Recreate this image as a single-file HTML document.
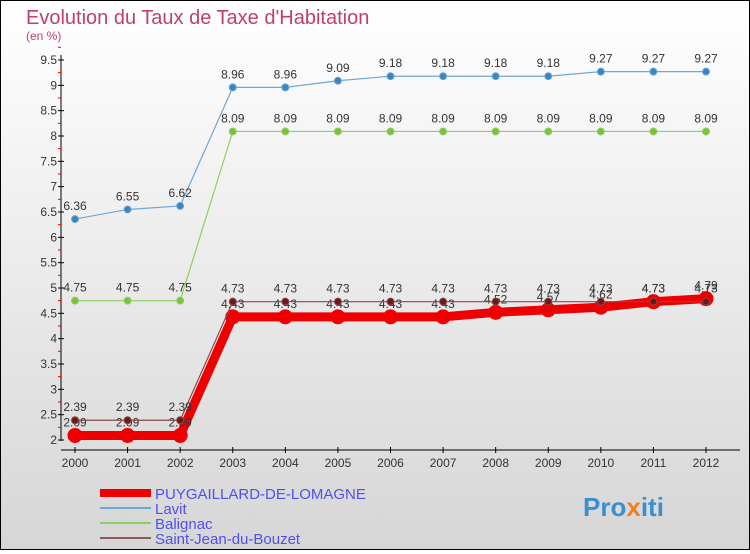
<!DOCTYPE html>
<html><head><meta charset="utf-8"><style>
body{margin:0;width:750px;height:550px;overflow:hidden;font-family:"Liberation Sans",sans-serif}
#wrap{position:relative;width:748px;height:548px;border:1px solid #000;background:linear-gradient(#ffffff,#d6d6d6)}
</style></head><body>
<div id="wrap">
<svg id="chart" width="748" height="548" viewBox="1 1 748 548">
<text x="26" y="24" font-size="20" fill="#c0406a">Evolution du Taux de Taxe d'Habitation</text>
<text x="26" y="40" font-size="12" fill="#c0406a">(en %)</text>
<g id="axes"></g><g id="series"></g><g id="legend"></g>
<text x="583" y="516" font-size="26" font-weight="bold" fill="#3a8fd0">Pro<tspan fill="#f08020">x</tspan>iti</text>
</svg></div>
<script>
const years=[2000,2001,2002,2003,2004,2005,2006,2007,2008,2009,2010,2011,2012];
const yTicks=[2,2.5,3,3.5,4,4.5,5,5.5,6,6.5,7,7.5,8,8.5,9,9.5];
const puyg=[2.09,2.09,2.09,4.43,4.43,4.43,4.43,4.43,4.52,4.57,4.62,4.73,4.79];
const lavit=[6.36,6.55,6.62,8.96,8.96,9.09,9.18,9.18,9.18,9.18,9.27,9.27,9.27];
const balignac=[4.75,4.75,4.75,8.09,8.09,8.09,8.09,8.09,8.09,8.09,8.09,8.09,8.09];
const sjdb=[2.39,2.39,2.39,4.73,4.73,4.73,4.73,4.73,4.73,4.73,4.73,4.73,4.73];
const names=["PUYGAILLARD-DE-LOMAGNE","Lavit","Balignac","Saint-Jean-du-Bouzet"];
const NS="http://www.w3.org/2000/svg";
const X=i=>75+i*(706-75)/(years.length-1);
const Y=v=>440-(v-2)*(440-60)/7.5;
function mk(t,a,p){const e=document.createElementNS(NS,t);for(const k in a)e.setAttribute(k,a[k]);p.appendChild(e);return e;}
const ax=document.getElementById('axes');
let l=mk('line',{x1:61,y1:55,x2:61,y2:441,stroke:'#000'},ax);


l=mk('line',{x1:61,y1:450,x2:740,y2:450,stroke:'#000'},ax);


yTicks.forEach(v=>{const y=Y(v);
 mk('line',{x1:58,y1:y,x2:64,y2:y,stroke:'#000'},ax);
 mk('line',{x1:58,y1:y-12.7,x2:61,y2:y-12.7,stroke:'#e00'},ax);
 const t=mk('text',{x:57,y:y+4,'font-size':12,'text-anchor':'end',fill:'#333'},ax);t.textContent=v;
 
 });
years.forEach((yr,i)=>{const x=X(i);
 mk('line',{x1:x,y1:447,x2:x,y2:453,stroke:'#000'},ax);
 const t=mk('text',{x:x,y:467,'font-size':12,'text-anchor':'middle',fill:'#333'},ax);t.textContent=yr;
 
 });
const sg=document.getElementById('series');
function draw(d,col,w,r,dot,name,off){
 const g=mk('g',{},sg);
 
 
 mk('polyline',{points:d.map((v,i)=>X(i)+','+Y(v)).join(' '),fill:'none',stroke:col,'stroke-width':w},g);
 d.forEach((v,i)=>{const c=mk('circle',{cx:X(i),cy:Y(v),r:r,fill:dot,stroke:col},g);
  
  
  const t=mk('text',{x:X(i),y:Y(v)+off,'font-size':12,'text-anchor':'middle',fill:'#333'},g);t.textContent=v;
  
  });
}
draw(lavit,'#6fa8d8',1.2,3.5,'#3a85c0','lavit',-9);
draw(balignac,'#8ed060',1.2,3.5,'#7cc040','balignac',-9);
draw(puyg,'#ee0000',9,7,'#ee0000','puygaillard',-9);
draw(sjdb,'#8a4a4a',1.2,3.5,'#6a1a1a','saint-jean-du-bouzet',-9);
const lg=document.getElementById('legend');
const lc=['#ee0000','#6fa8d8','#8ed060','#8a5a5a'],lw=[8,2,2,2];
names.forEach((n,i)=>{const y=493+i*15;
 const g=mk('g',{},lg);
 
 
 mk('line',{x1:100,y1:y,x2:151,y2:y,stroke:lc[i],'stroke-width':lw[i]},g);
 const t=mk('text',{x:155,y:y+6,'font-size':15,fill:'#5050ee'},g);t.textContent=n;});
</script></body></html>
